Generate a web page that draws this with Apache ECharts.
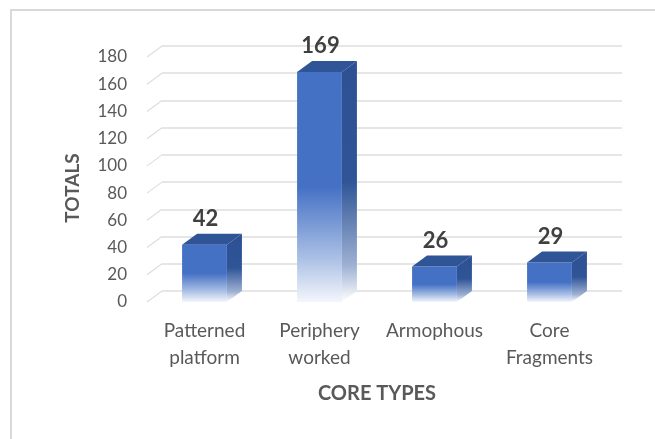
<!DOCTYPE html>
<html>
<head>
<meta charset="utf-8">
<script src="https://cdn.jsdelivr.net/npm/echarts@6/dist/echarts.min.js"></script>
<style>
  html, body { margin: 0; padding: 0; background: #ffffff; }
  #chart { width: 655px; height: 439px; }
</style>
</head>
<body>
<div id="chart"></div>
<script>
// Core type counts
const categories = ['Patterned\nplatform', 'Periphery\nworked', 'Armophous', 'Core\nFragments'];
const totals = [42, 169, 26, 29];
const yMin = 0;
const yMax = 180;
const yStep = 20;
const yTicks = [0, 20, 40, 60, 80, 100, 120, 140, 160, 180];

// depth offset used for the pseudo-3D faces and the back wall
const DX = 15;
const DY = 11;
const FONT = 'Lato, "Open Sans", sans-serif';
const TEXT = '#595959';
const GRID = '#dedede';

const chart = echarts.init(document.getElementById('chart'));

function vGrad(stops) {
  return new echarts.graphic.LinearGradient(0, 0, 0, 1,
    stops.map(s => ({ offset: s[0], color: s[1] })));
}

function renderBar(params, api) {
  const idx = api.value(0);
  const val = api.value(1);
  const top = api.coord([idx, val]);
  const base = api.coord([idx, 0]);
  const w = api.size([1, 0])[0] * 0.39;
  const x0 = top[0] - w / 2;
  const x1 = top[0] + w / 2;
  const yt = top[1];
  const yb = base[1];
  return {
    type: 'group',
    children: [
      {
        type: 'polygon',
        shape: { points: [[x1, yt], [x1 + DX, yt - DY], [x1 + DX, yb - DY], [x1, yb]] },
        style: {
          fill: vGrad([[0, '#2d5093'], [0.5, '#2f5597'], [0.85, '#9fb1d3'], [1, '#ffffff']])
        }
      },
      {
        type: 'rect',
        shape: { x: x0, y: yt, width: w, height: yb - yt },
        style: {
          fill: vGrad([[0, '#4571c5'], [0.5, '#4571c5'], [0.8, '#a7bde4'], [1, '#f3f6fc']])
        }
      },
      {
        type: 'polygon',
        shape: { points: [[x0, yt], [x1, yt], [x1 + DX, yt - DY], [x0 + DX, yt - DY]] },
        style: { fill: '#2f5597' }
      },
      {
        type: 'text',
        style: {
          x: top[0] + 1,
          y: yt - DY - 4,
          text: String(val),
          fill: '#404040',
          font: 'bold 22px ' + FONT,
          textAlign: 'center',
          textVerticalAlign: 'bottom'
        }
      }
    ]
  };
}

// slanted side-wall lines joining front scale to back wall gridlines
function renderWall(params, api) {
  const v = api.value(0);
  const p = api.coord([0, v]);
  const x = params.coordSys.x;
  return {
    type: 'line',
    shape: { x1: x, y1: p[1], x2: x + DX, y2: p[1] - DY },
    style: { stroke: GRID, lineWidth: 1.2 }
  };
}

const option = {
  backgroundColor: '#ffffff',
  animation: false,
  grid: [
    { left: 147, right: 48, top: 57, bottom: 137 },
    { left: 147 + DX, right: 48 - DX, top: 57 - DY, bottom: 137 + DY }
  ],
  xAxis: [
    {
      gridIndex: 0,
      type: 'category',
      data: categories,
      axisLine: { show: false },
      axisTick: { show: false },
      axisLabel: {
        color: TEXT, fontFamily: FONT, fontSize: 19, lineHeight: 27, margin: 15, interval: 0
      },
      name: 'CORE TYPES',
      nameLocation: 'middle',
      nameGap: 82,
      nameTextStyle: { color: TEXT, fontFamily: FONT, fontSize: 20, fontWeight: 'bold' }
    },
    {
      gridIndex: 1,
      type: 'category',
      data: categories,
      show: false
    }
  ],
  yAxis: [
    {
      gridIndex: 0,
      type: 'value',
      min: yMin, max: yMax, interval: yStep,
      axisLine: { show: false },
      axisTick: { show: false },
      splitLine: { show: false },
      axisLabel: { color: TEXT, fontFamily: FONT, fontSize: 17, margin: 20, padding: [6, 0, 0, 0] }
    },
    {
      gridIndex: 1,
      type: 'value',
      min: yMin, max: yMax, interval: yStep,
      axisLine: { show: false },
      axisTick: { show: false },
      axisLabel: { show: false },
      splitLine: { show: true, lineStyle: { color: GRID, width: 1.5 } }
    }
  ],
  graphic: [
    {
      type: 'rect',
      shape: { x: 11, y: 10, width: 700, height: 500 },
      style: { fill: 'none', stroke: '#d9d9d9', lineWidth: 2 },
      silent: true
    },
    {
      type: 'text',
      x: 73, y: 188,
      rotation: Math.PI / 2,
      style: {
        text: 'TOTALS',
        fill: TEXT,
        font: 'bold 19px ' + FONT,
        textAlign: 'center',
        textVerticalAlign: 'middle'
      }
    }
  ],
  series: [
    {
      type: 'custom',
      xAxisIndex: 0, yAxisIndex: 0,
      renderItem: renderWall,
      data: yTicks.map(v => [v]),
      encode: { y: 0 },
      silent: true,
      z: 1
    },
    {
      type: 'custom',
      xAxisIndex: 0, yAxisIndex: 0,
      renderItem: renderBar,
      data: totals.map((v, i) => [i, v]),
      encode: { x: 0, y: 1 },
      z: 5
    }
  ]
};

chart.setOption(option);
</script>
</body>
</html>
